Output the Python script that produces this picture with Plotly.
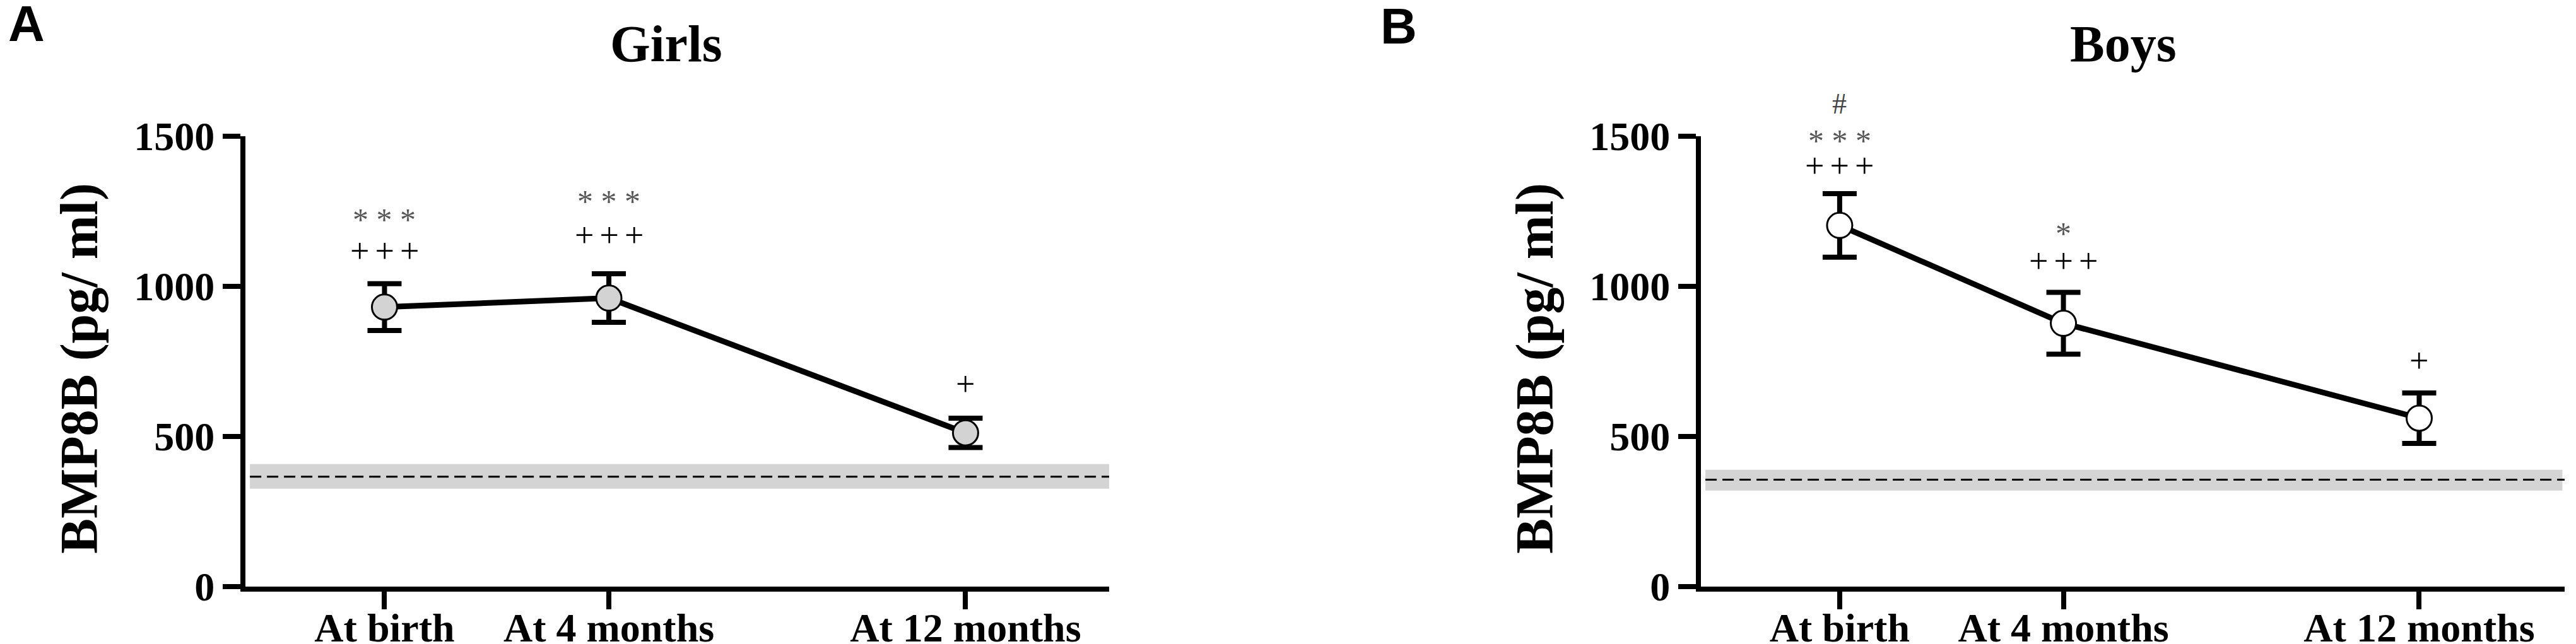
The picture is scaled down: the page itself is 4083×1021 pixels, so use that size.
import plotly.graph_objects as go

# ---------------- data ----------------
categories = ["At birth", "At 4 months", "At 12 months"]
cat_pos = [0, 1, 2.59]          # uneven category spacing as drawn in the original

girls_mean = [931, 961, 512]
girls_sem = [78, 81, 49]
boys_mean = [1203, 877, 561]
boys_sem = [106, 103, 84]

girls_ref = [366, 326, 408]     # mean, lower, upper of reference band
boys_ref = [356, 320, 389]

PLUS3 = "+\u2006+\u2006+"
girls_plus = [PLUS3, PLUS3, "+"]
girls_star = ["* * *", "* * *", ""]
girls_hash = ["", "", ""]
boys_plus = [PLUS3, PLUS3, "+"]
boys_star = ["* * *", "*", ""]
boys_hash = ["#", "", ""]

y_ticks = [0, 500, 1000, 1500]

# label offsets above the error-bar cap (pixels)
girls_plus_shift = [52, 61, 54]
girls_star_shift = [102, 115, 0]
boys_plus_shift = [44, 50, 51]
boys_star_shift = [84, 94, 0]
boys_hash_shift = [142, 0, 0]

# ---------------- figure ----------------
W, H = 4083, 1021
fig = go.Figure()

SERIF = "Liberation Serif"

def add_panel(idx, mean, sem, fill, ref, plus, star, hsh, p_sh, s_sh, h_sh):
    xa = "x" if idx == 1 else "x2"
    ya = "y" if idx == 1 else "y2"
    fig.add_trace(go.Scatter(
        x=cat_pos, y=mean, xaxis=xa, yaxis=ya, mode="lines+markers",
        line=dict(color="black", width=9),
        marker=dict(size=40, color=fill, line=dict(color="black", width=3)),
        error_y=dict(type="data", array=sem, visible=True, color="black",
                     thickness=8, width=27),
        showlegend=False, hoverinfo="skip"))
    # reference band and dashed mean line
    fig.add_shape(type="rect", xref=xa, yref=ya, x0=-0.60, x1=3.23,
                  y0=ref[1], y1=ref[2], fillcolor="#d4d4d4",
                  line=dict(width=0), layer="below")
    fig.add_shape(type="line", xref=xa, yref=ya, x0=-0.60, x1=3.24,
                  y0=ref[0], y1=ref[0],
                  line=dict(color="black", width=3, dash="18px,9px"))
    for i in range(len(cat_pos)):
        top = mean[i] + sem[i]
        if plus[i]:
            fig.add_annotation(x=cat_pos[i], y=top, xref=xa, yref=ya,
                               text=plus[i], showarrow=False, yshift=p_sh[i],
                               font=dict(family=SERIF, size=54, color="black"))
        if star[i]:
            fig.add_annotation(x=cat_pos[i], y=top, xref=xa, yref=ya,
                               text=star[i], showarrow=False, yshift=s_sh[i],
                               font=dict(family=SERIF, size=50, color="#555555"))
        if hsh[i]:
            fig.add_annotation(x=cat_pos[i], y=top, xref=xa, yref=ya,
                               text=hsh[i], showarrow=False, yshift=h_sh[i],
                               font=dict(family=SERIF, size=46, color="#444444"))

add_panel(1, girls_mean, girls_sem, "#d3d3d3", girls_ref,
          girls_plus, girls_star, girls_hash,
          girls_plus_shift, girls_star_shift, [0, 0, 0])
add_panel(2, boys_mean, boys_sem, "white", boys_ref,
          boys_plus, boys_star, boys_hash,
          boys_plus_shift, boys_star_shift, boys_hash_shift)

ydom = [(H - 922) / H, (H - 208) / H]

axis_common = dict(showgrid=False, zeroline=False, showline=True,
                   linecolor="black", linewidth=8, ticks="outside",
                   ticklen=28, tickwidth=8, tickcolor="black",
                   automargin=False)

xfont = dict(family=SERIF, size=64, color="black", weight="bold")
yfont = dict(family=SERIF, size=64, color="black", weight="bold")

fig.update_layout(
    template="none",
    width=W, height=H,
    margin=dict(l=0, r=0, t=0, b=0, pad=0, autoexpand=False),
    paper_bgcolor="white", plot_bgcolor="white",
    xaxis=dict(domain=[381 / W, 1750 / W], range=[-0.62, 3.23],
               tickvals=cat_pos, ticktext=categories, tickfont=xfont,
               ticklabelstandoff=-26, anchor="y", **axis_common),
    yaxis=dict(domain=ydom, range=[0, 1500], tickvals=y_ticks,
               tickfont=yfont, anchor="x", **axis_common),
    xaxis2=dict(domain=[2688 / W, 4057 / W], range=[-0.62, 3.24],
                tickvals=cat_pos, ticktext=categories, tickfont=xfont,
                ticklabelstandoff=-26, anchor="y2", **axis_common),
    yaxis2=dict(domain=ydom, range=[0, 1500], tickvals=y_ticks,
                tickfont=yfont, anchor="x2", **axis_common),
)

title_font = dict(family=SERIF, size=82, color="black", weight="bold")
ytitle_font = dict(family=SERIF, size=84, color="black", weight="bold")
letter_font = dict(family="Liberation Sans", size=80, color="black", weight="bold")

# panel titles
fig.add_annotation(text="Girls", x=1048 / W, y=1 - 62 / H, xref="paper", yref="paper",
                   showarrow=False, font=title_font, xanchor="center", yanchor="middle")
fig.add_annotation(text="Boys", x=3357 / W, y=1 - 62 / H, xref="paper", yref="paper",
                   showarrow=False, font=title_font, xanchor="center", yanchor="middle")
# panel letters
fig.add_annotation(text="A", x=3 / W, y=1 - 30 / H, xref="paper", yref="paper",
                   showarrow=False, font=letter_font, xanchor="left", yanchor="middle")
fig.add_annotation(text="B", x=2178 / W, y=1 - 33 / H, xref="paper", yref="paper",
                   showarrow=False, font=letter_font, xanchor="left", yanchor="middle")
# y axis titles
for xc in (118, 2425):
    fig.add_annotation(text="BMP8B (pg/ ml)", x=xc / W, y=1 - 576 / H,
                       xref="paper", yref="paper", showarrow=False,
                       textangle=-90, font=ytitle_font,
                       xanchor="center", yanchor="middle")

fig.write_html("out.html")
